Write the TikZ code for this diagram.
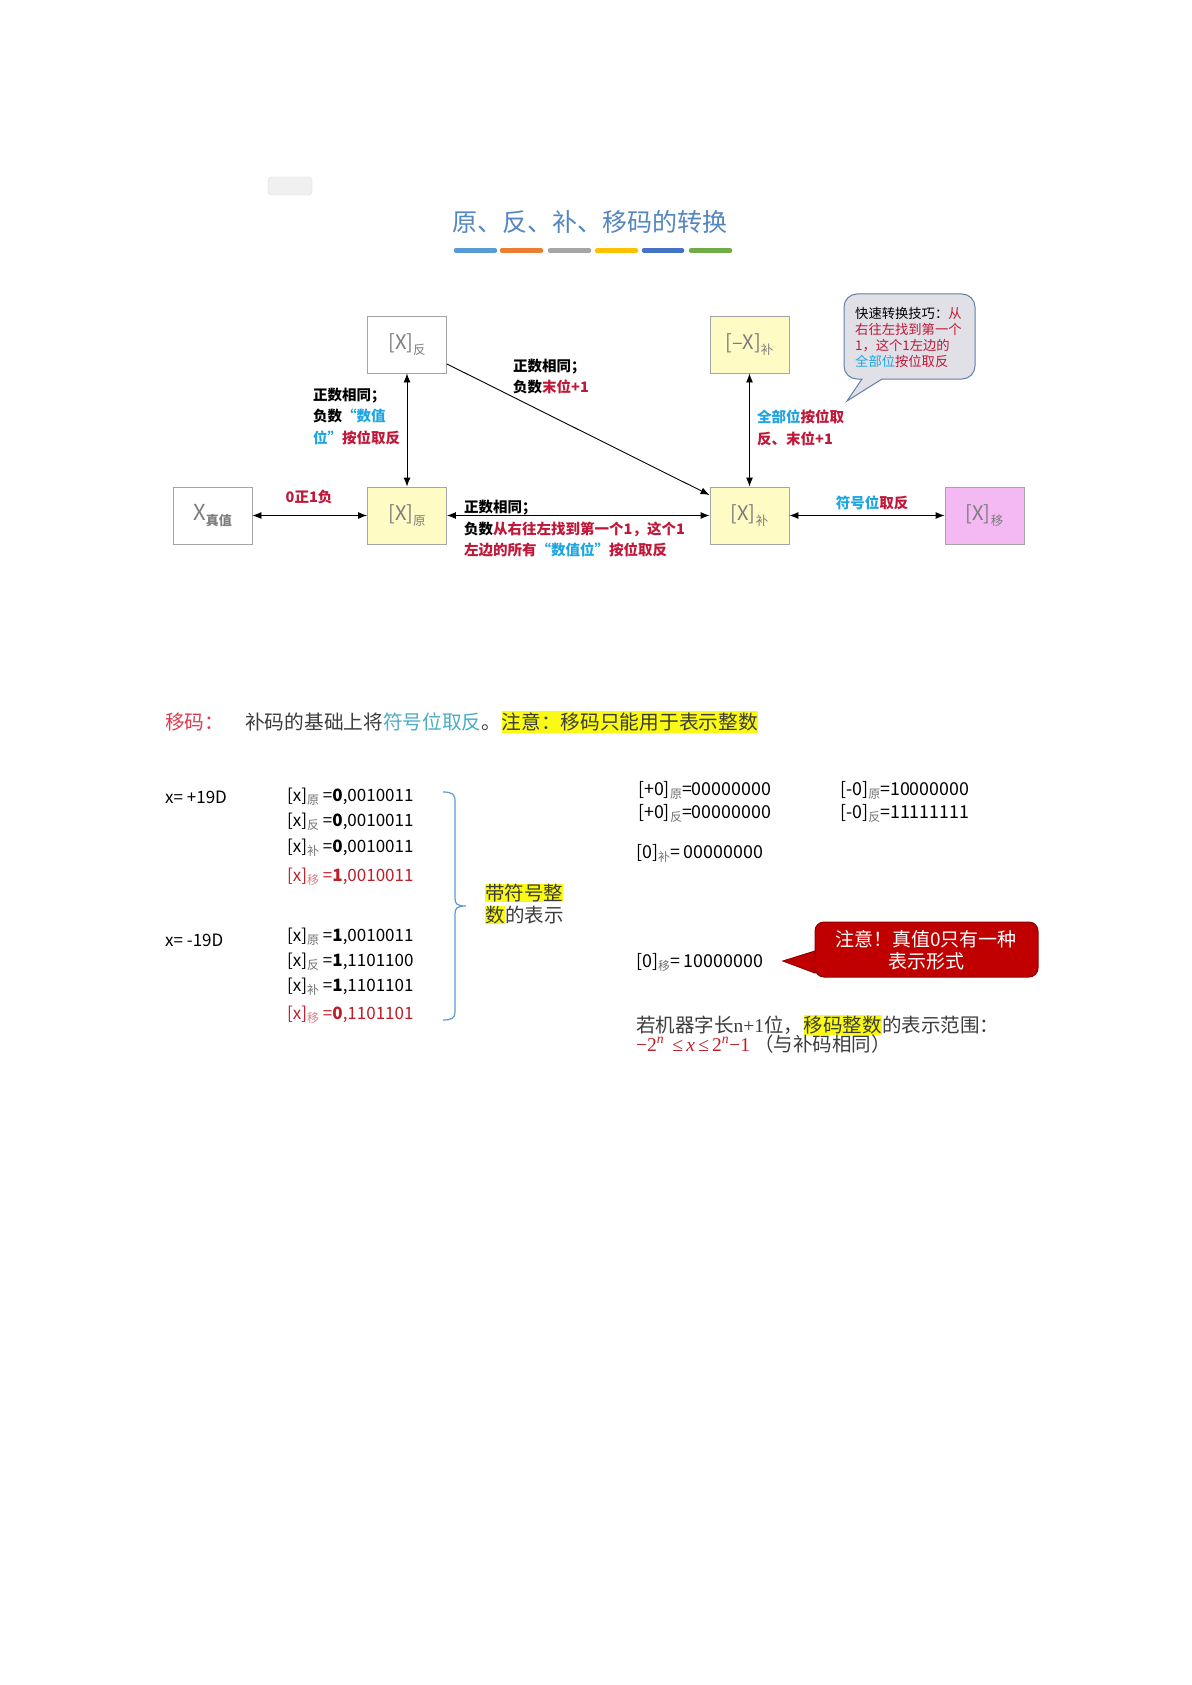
\documentclass[tikz,border=0pt]{standalone}
\usepackage{fontspec}
\setmainfont{Noto Sans CJK SC}
\newfontfamily\tnr{Liberation Serif}
\usetikzlibrary{arrows.meta,positioning}
\definecolor{dred}{RGB}{192,24,56}
\definecolor{cblue}{RGB}{30,165,225}
\definecolor{boxy}{RGB}{255,251,196}
\definecolor{boxm}{RGB}{244,184,242}
\definecolor{boxline}{RGB}{165,165,165}
\definecolor{boxtxt}{RGB}{125,125,125}
\definecolor{ttlblue}{RGB}{84,134,192}
\definecolor{lred}{RGB}{222,60,80}
\definecolor{mteal}{RGB}{75,172,198}
\definecolor{hyel}{RGB}{250,250,20}
\definecolor{nred}{RGB}{190,30,40}
\definecolor{brblue}{RGB}{91,155,213}
\definecolor{callfill}{RGB}{224,224,230}
\definecolor{callline}{RGB}{95,128,168}
\definecolor{rcall}{RGB}{192,0,0}
\definecolor{rcallline}{RGB}{140,0,0}
\definecolor{txtgray}{RGB}{60,60,60}
\definecolor{barA}{RGB}{91,155,213}
\definecolor{barB}{RGB}{237,125,49}
\definecolor{barC}{RGB}{165,165,165}
\definecolor{barD}{RGB}{255,192,0}
\definecolor{barE}{RGB}{68,114,196}
\definecolor{barF}{RGB}{112,173,71}
\newcommand\fsz[2]{\fontsize{#1}{#2}\selectfont}
\newcommand\boxlbl[2]{{\fsz{20}{20}#1}\raisebox{-5pt}{\fsz{12.5}{12.5}#2}}
\newcommand\rowtxt[3]{[x]\raisebox{-3pt}{\fsz{12}{12}\color{.!55!white}#1} =\textbf{#2},#3}
\newcommand\zsub[1]{\raisebox{-3pt}{\fsz{12}{12}\color{.!55!white}#1}}
\begin{document}
\begin{tikzpicture}[x=1pt,y=-1pt,
  cbox/.style={draw=boxline, line width=0.9pt, minimum width=79pt, minimum height=57pt, inner sep=0pt, text=boxtxt},
  conn/.style={line width=0.9pt, {Latex[length=9pt,width=7pt]}-{Latex[length=9pt,width=7pt]}},
  conn1/.style={line width=0.9pt, -{Latex[length=9pt,width=7pt]}},
  lbl/.style={font=\fsz{14.5}{21.5}\bfseries, align=left, inner sep=0pt, anchor=west},
  txt/.style={inner sep=0pt, anchor=west},
  hl/.style={fill=hyel, inner sep=0pt, anchor=base west},
  bar/.style={line width=4.5pt, line cap=round}
]
\useasboundingbox[fill=white] (0,0) rectangle (1191,1685);

% header
\node[draw=black!15, fill=black!6, rounded corners=4pt, minimum width=44pt, minimum height=18pt, inner sep=0pt] (tag) at (290,186) {};
\node[text=ttlblue, font=\fsz{25}{25}, inner sep=0pt] (title) at (589.5,222) {原、反、补、移码的转换};
\draw[bar, barA] (456,250.5) -- (495,250.5);
\draw[bar, barB] (502,250.5) -- (541,250.5);
\draw[bar, barC] (550,250.5) -- (589,250.5);
\draw[bar, barD] (597,250.5) -- (636,250.5);
\draw[bar, barE] (644,250.5) -- (682,250.5);
\draw[bar, barF] (691,250.5) -- (730,250.5);

% boxes
\node[cbox, fill=white] (xz) at (212.5,515.5) {{\fsz{22}{22}X}\raisebox{-5pt}{\fsz{13}{13}\bfseries 真值}};
\node[cbox, fill=boxy] (xy) at (407,515.5) {\boxlbl{[X]}{原}};
\node[cbox, fill=white] (xf) at (407,344.5) {\boxlbl{[X]}{反}};
\node[cbox, fill=boxy] (xb) at (749.5,515.5) {\boxlbl{[X]}{补}};
\node[cbox, fill=boxy] (xnb) at (749.5,344.5) {\boxlbl{[–X]}{补}};
\node[cbox, fill=boxm] (xm) at (984.5,515.5) {\boxlbl{[X]}{移}};

% connectors
\draw[conn] (xz) -- (xy);
\draw[conn] (xy) -- (xf);
\draw[conn] (xy) -- (xb);
\draw[conn] (xb) -- (xnb);
\draw[conn] (xb) -- (xm);
\draw[conn1] ([yshift=-19.5pt]xf.east) -- ([yshift=20.5pt]xb.west);

% labels
\node[lbl, anchor=center, text=dred] (l0) at (309,497) {0正1负};
\node[lbl] (l1) at (313,416.5) {正数相同；\\负数\textcolor{cblue}{“数值}\\\textcolor{cblue}{位”}\textcolor{dred}{按位取反}};
\node[lbl] (l2) at (513,376.5) {正数相同；\\负数\textcolor{dred}{末位+1}};
\node[lbl] (l3) at (464,529) {正数相同；\\负数\textcolor{dred}{从右往左找到第一个1，这个1}\\\textcolor{dred}{左边的所有}\textcolor{cblue}{“数值位”}\textcolor{dred}{按位取反}};
\node[lbl] (l4) at (757,428) {\textcolor{cblue}{全部位}\textcolor{dred}{按位取}\\\textcolor{dred}{反、末位+1}};
\node[lbl, anchor=center] (l5) at (872,503) {\textcolor{cblue}{符号位}\textcolor{dred}{取反}};

% callout
\draw[fill=callfill, draw=callline, line width=1pt] (862,379) [rounded corners=13pt] -- (844,379) -- (844,294) -- (975,294) -- (975,379) [sharp corners] -- (882,379) -- (847,401) -- cycle;
\node[txt, font=\fsz{13.3}{16.3}, align=left] (tip) at (855,337.5) {快速转换技巧：\textcolor{dred}{从}\\\textcolor{dred}{右往左找到第一个}\\\textcolor{dred}{1，这个1左边的}\\\textcolor{cblue}{全部位}\textcolor{dred}{按位取反}};

% lower section
\node[txt, text=lred, font=\fsz{19.7}{22}] (ym) at (165,722) {移码：};
\node[txt, font=\fsz{19.7}{22}, text=txtgray] (ym2) at (245,722) {补码的基础上将\textcolor{mteal}{符号位取反}。};
\node[hl, font=\fsz{19.7}{22}, text=txtgray, inner ysep=2pt] (ym3) at (ym2.base east) {注意：移码只能用于表示整数};

\begin{scope}[font=\fsz{17}{20}]
\node[txt] (p19) at (165,797) {x= +19D};
\node[txt] (r1) at (287,797) {\rowtxt{原}{0}{0010011}};
\node[txt] (r2) at (287,822) {\rowtxt{反}{0}{0010011}};
\node[txt] (r3) at (287,848) {\rowtxt{补}{0}{0010011}};
\node[txt, text=nred] (r4) at (287,877) {\rowtxt{移}{1}{0010011}};
\node[txt] (m19) at (165,940) {x= -19D};
\node[txt] (r5) at (287,937) {\rowtxt{原}{1}{0010011}};
\node[txt] (r6) at (287,962) {\rowtxt{反}{1}{1101100}};
\node[txt] (r7) at (287,987) {\rowtxt{补}{1}{1101101}};
\node[txt, text=nred] (r8) at (287,1015) {\rowtxt{移}{0}{1101101}};
\end{scope}
\begin{scope}[font=\fsz{17.8}{20}]
\node[txt] (z1) at (638,790) {[+0]\zsub{原}=00000000};
\node[txt] (z2) at (638,813) {[+0]\zsub{反}=00000000};
\node[txt] (z3) at (840,790) {[-0]\zsub{原}=10000000};
\node[txt] (z4) at (840,813) {[-0]\zsub{反}=11111111};
\node[txt] (z5) at (636,853) {[0]\zsub{补}= 00000000};
\node[txt] (z6) at (636,962) {[0]\zsub{移}= 10000000};
\end{scope}

% brace
\draw[brblue, line width=1.2pt] (443,792) .. controls (452,792) and (455,794) .. (455,801) -- (455,898) .. controls (455,904) and (457,906) .. (466,906)
  .. controls (457,906) and (455,908) .. (455,914) -- (455,1012) .. controls (455,1018) and (452,1020) .. (443,1020);
\node[hl, font=\fsz{19.5}{22}, text=txtgray] (bf1) at (485,900) {带符号整};
\node[hl, font=\fsz{19.5}{22}, text=txtgray] (bf2) at (485,922) {数};
\node[inner sep=0pt, anchor=base west, font=\fsz{19.5}{22}, text=txtgray] (bf3) at (bf2.base east) {的表示};

% red callout
\draw[fill=rcall, draw=rcallline, line width=1pt] (815,962) [rounded corners=9pt] -- (815,922) -- (1038,922) -- (1038,977) -- (815,977) [sharp corners] -- (815,973) -- (783,961) -- (815,951) -- cycle;
\node[text=white, font=\fsz{19}{21.5}, align=center, inner sep=0pt] (note) at (926,950) {注意！真值0只有一种\\表示形式};

% range
\node[txt, font=\fsz{19.5}{22}, text=txtgray] (rg1) at (636,1025) {若机器字长{\tnr n+1}位，};
\node[hl, font=\fsz{19.5}{22}, text=txtgray, inner ysep=1pt] (rg2) at (rg1.base east) {移码整数};
\node[inner sep=0pt, anchor=base west, font=\fsz{19.5}{22}, text=txtgray] (rg3) at (rg2.base east) {的表示范围：};
\node[txt, font=\fsz{19.5}{22}] (rg4) at (636,1044) {\textcolor{nred}{\tnr −2\textsuperscript{\itshape n}\ \,≤\,\textit{x}\,≤\,2\textsuperscript{\itshape n}−1}\ \textcolor{txtgray}{（与补码相同）}};
\end{tikzpicture}
\end{document}
